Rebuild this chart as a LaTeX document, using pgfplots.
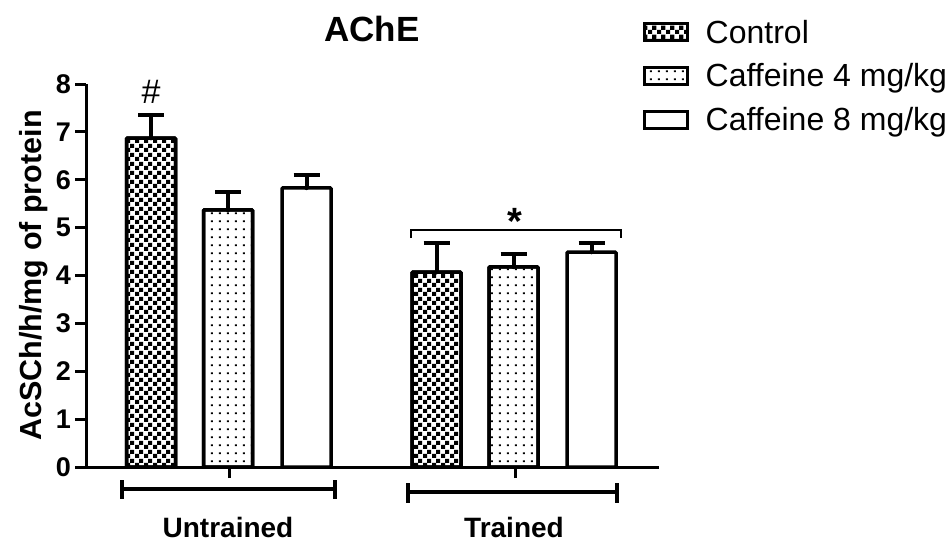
\documentclass[border=0pt]{standalone}
\usepackage{pgfplots}
\pgfplotsset{compat=1.18}
\usepackage{pgfplotstable}
\usepackage{fontspec}
\setmainfont{Liberation Sans}
\usetikzlibrary{patterns}
\pgfdeclarepatternformonly{checkbig}{\pgfpointorigin}{\pgfqpoint{9pt}{9pt}}{\pgfqpoint{9pt}{9pt}}{%
 \pgfpathrectangle{\pgfpointorigin}{\pgfqpoint{4.5pt}{4.5pt}}%
 \pgfpathrectangle{\pgfqpoint{4.5pt}{4.5pt}}{\pgfqpoint{4.5pt}{4.5pt}}%
 \pgfusepath{fill}}
\pgfdeclarepatternformonly{dotsbig}{\pgfpointorigin}{\pgfqpoint{7.7pt}{8.3pt}}{\pgfqpoint{7.7pt}{8.3pt}}{%
 \pgfpathrectangle{\pgfqpoint{3pt}{3pt}}{\pgfqpoint{2pt}{2pt}}%
 \pgfusepath{fill}}

\pgfplotstableread{
x y e
65 6.87 0.48
350.5 4.07 0.61
}\ctrl
\pgfplotstableread{
x y e
142 5.37 0.37
427.5 4.18 0.27
}\cafA
\pgfplotstableread{
x y e
220.5 5.83 0.27
505.5 4.49 0.19
}\cafB

\begin{document}
\begin{tikzpicture}
\path[use as bounding box] (0,0) rectangle (952pt,547pt);
\begin{axis}[
  at={(86pt,80pt)}, anchor=south west,
  scale only axis, width=573pt, height=383pt,
  xmin=0, xmax=573, ymin=0, ymax=8,
  axis x line*=bottom, axis y line*=left,
  axis line style={line width=3pt, -},
  ytick={0,1,...,8}, xtick={143,429}, xticklabels={},
  tick align=outside, major tick length=11pt,
  tick style={line width=3pt, black},
  /pgf/number format/assume math mode=true,
  yticklabel style={font=\bfseries\fontsize{27}{27}\selectfont, inner sep=0pt, xshift=-4pt},
  clip=false,
  legend image code/.code={\draw[#1] (0pt,-8.5pt) rectangle (43pt,8.5pt);},
  legend style={at={(0.966,1.178)}, anchor=north west, draw=none, fill=none,
    font=\fontsize{32}{32}\selectfont, row sep=15pt,
    /tikz/every odd column/.style={column sep=15pt}},
  legend cell align=left,
]
\addplot[forget plot, only marks, mark=none, error bars/.cd, y dir=plus, y explicit,
  error mark=|,
  error bar style={line width=4pt, black},
  error mark options={line width=4pt, mark size=13pt, black}]
  table[x=x, y=y, y error=e] {\ctrl};
\addplot[forget plot, only marks, mark=none, error bars/.cd, y dir=plus, y explicit,
  error mark=|,
  error bar style={line width=4pt, black},
  error mark options={line width=4pt, mark size=13pt, black}]
  table[x=x, y=y, y error=e] {\cafA};
\addplot[forget plot, only marks, mark=none, error bars/.cd, y dir=plus, y explicit,
  error mark=|,
  error bar style={line width=4pt, black},
  error mark options={line width=4pt, mark size=13pt, black}]
  table[x=x, y=y, y error=e] {\cafB};

\addplot[forget plot, ybar, bar width=49pt, bar shift=0pt, draw=black, line width=3.5pt,
  rounded corners=1pt, preaction={fill=white}, pattern=checkbig]
  table[x=x, y=y] {\ctrl};
\addplot[forget plot, ybar, bar width=49pt, bar shift=0pt, draw=black, line width=3.5pt,
  rounded corners=1pt, preaction={fill=white}, pattern=dotsbig]
  table[x=x, y=y] {\cafA};
\addplot[forget plot, ybar, bar width=49pt, bar shift=0pt, draw=black, line width=3.5pt,
  rounded corners=1pt, fill=white]
  table[x=x, y=y] {\cafB};

\addlegendimage{draw=black, line width=3pt, preaction={fill=white}, pattern=checkbig}
\addlegendentry{Control}
\addlegendimage{draw=black, line width=3pt, preaction={fill=white}, pattern=dotsbig}
\addlegendentry{Caffeine 4 mg/kg}
\addlegendimage{draw=black, line width=3pt, fill=white}
\addlegendentry{Caffeine 8 mg/kg}

% group brackets
\draw[line width=3.5pt] ([yshift=-22pt]axis cs:36,0) -- ([yshift=-22pt]axis cs:249,0);
\draw[line width=3.5pt] ([yshift=-13pt]axis cs:36,0) -- ([yshift=-32pt]axis cs:36,0);
\draw[line width=3.5pt] ([yshift=-13pt]axis cs:249,0) -- ([yshift=-32pt]axis cs:249,0);
\draw[line width=3.5pt] ([yshift=-25pt]axis cs:322,0) -- ([yshift=-25pt]axis cs:531,0);
\draw[line width=3.5pt] ([yshift=-16pt]axis cs:322,0) -- ([yshift=-36pt]axis cs:322,0);
\draw[line width=3.5pt] ([yshift=-16pt]axis cs:531,0) -- ([yshift=-36pt]axis cs:531,0);
\node[anchor=base, font=\bfseries\fontsize{28}{28}\selectfont] at ([yshift=-70pt]axis cs:142,0) {Untrained};
\node[anchor=base, font=\bfseries\fontsize{28}{28}\selectfont] at ([yshift=-70pt]axis cs:428,0) {Trained};

% significance
\draw[line width=2.5pt] (axis cs:325,4.78) -- (axis cs:325,4.95) -- (axis cs:535,4.95) -- (axis cs:535,4.78);
\node[anchor=base, inner sep=0pt, font=\bfseries\fontsize{38}{38}\selectfont] at (axis cs:429,4.85) {*};
\node[anchor=base, inner sep=0pt, font=\fontsize{34}{34}\selectfont] at (axis cs:65,7.60) {\#};

% title and y label
\node[anchor=base, font=\bfseries\fontsize{35}{35}\selectfont] at ([yshift=43pt]rel axis cs:0.499,1) {AChE};
\node[rotate=90, anchor=base, inner sep=0pt, font=\bfseries\fontsize{30.5}{30.5}\selectfont] at ([xshift=-44pt]rel axis cs:0,0.5) {AcSCh/h/mg of protein};
\end{axis}
\end{tikzpicture}
\end{document}
